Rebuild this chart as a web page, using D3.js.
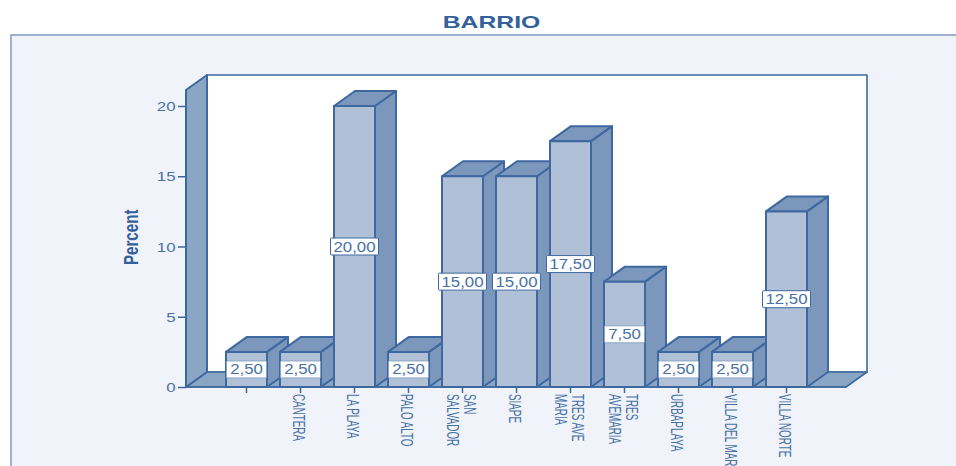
<!DOCTYPE html>
<html><head><meta charset="utf-8">
<script src="https://cdn.jsdelivr.net/npm/d3@7"></script>
<style>html,body{margin:0;padding:0;background:#fff;overflow:hidden}svg{display:block}text{font-family:"Liberation Sans",Arial,sans-serif}</style>
</head><body><svg id="c" width="956" height="466"></svg>
<script>
const categories = [" ","CANTERA","LA PLAYA","PALO ALTO","SAN|SALVADOR","SIAPE","TRES AVE|MARIA","TRES|AVEMARIA","URBAPLAYA","VILLA DEL MAR","VILLA NORTE"];
const percents = [2.5,2.5,20,2.5,15,15,17.5,7.5,2.5,2.5,12.5];
const valueLabels = ["2,50","2,50","20,00","2,50","15,00","15,00","17,50","7,50","2,50","2,50","12,50"];
const yTicks = [0,5,10,15,20];
const titleText = "BARRIO", yTitle = "Percent";

const ink="#3e689f", txt="#4871a6", front="#afc0d7", side="#7b97bb", wall="#8ba6c5";
const dx=21, dy=-15, barW=41;
const svg=d3.select("#c");
const y=d3.scaleLinear().domain([0,20]).range([387,106]);
const x=d3.scaleBand().domain(d3.range(categories.length)).range([219.5,813.5]).padding(0);
const poly=(pts,fill,g=svg,sw=2)=>g.append("polygon").attr("points",pts.map(p=>p.join(",")).join(" ")).attr("fill",fill).attr("stroke",ink).attr("stroke-width",sw).attr("stroke-linejoin","round");

svg.append("rect").attr("x",11).attr("y",35).attr("width",960).attr("height",450).attr("fill","#f0f3f9").attr("stroke","#7d9bc0").attr("stroke-width",1.5);
svg.append("text").attr("transform","translate(491.5,28) scale(1.5,1)").attr("text-anchor","middle").attr("font-size",16.5).attr("font-weight","bold").attr("fill","#33609a").text(titleText);

// walls
const L=186,R=846,B=y(0),topY=90;
poly([[L+dx,topY+dy],[R+dx,topY+dy],[R+dx,B+dy],[L+dx,B+dy]],"#fff",svg,1.6);
poly([[L,B],[L+dx,B+dy],[R+dx,B+dy],[R,B]],wall,svg,1.6);
poly([[L,topY],[L+dx,topY+dy],[L+dx,B+dy],[L,B]],wall);

// bars
const gb=svg.append("g");
percents.forEach((v,i)=>{
  const x0=x(i)+(x.bandwidth()-barW)/2, x1=x0+barW, yt=y(v);
  poly([[x1,yt],[x1+dx,yt+dy],[x1+dx,B+dy],[x1,B]],side,gb);
  poly([[x0,yt],[x0+dx,yt+dy],[x1+dx,yt+dy],[x1,yt]],side,gb);
  poly([[x0,yt],[x1,yt],[x1,B],[x0,B]],front,gb);
});
// value labels
percents.forEach((v,i)=>{
  const cx=x(i)+x.bandwidth()/2, cy=y(v/2);
  const w=valueLabels[i].length>4?48:40;
  const g=svg.append("g").attr("transform",`translate(${cx},${cy})`);
  g.append("rect").attr("x",-w/2).attr("y",-8.5).attr("width",w).attr("height",17).attr("rx",1).attr("fill","#fff").attr("stroke",w>40?ink:"#8ba6c5").attr("stroke-width",1);
  g.append("text").attr("transform","scale(1.2,1)").attr("text-anchor","middle").attr("y",5).attr("font-size",14).attr("fill",txt).text(valueLabels[i]);
});

// axes
const ay=svg.append("g").attr("transform",`translate(${L},0)`).call(d3.axisLeft(y).tickValues(yTicks).tickSize(8).tickPadding(0).tickFormat(d3.format("d")));
ay.select(".domain").remove();
ay.selectAll("line").attr("stroke",ink).attr("stroke-width",1.5);
ay.selectAll("text").attr("fill",txt).attr("font-size",12.5).attr("x",-10.5/1.35).attr("dy","0.36em").attr("transform","scale(1.35,1)");

const ax=svg.append("g").attr("transform",`translate(0,${B})`).call(d3.axisBottom(x).tickSize(6).tickFormat(""));
ax.select(".domain").attr("d",`M${L},0H${R}`).attr("stroke",ink).attr("stroke-width",1.6);
ax.selectAll("line").attr("stroke",ink).attr("stroke-width",1.5);
categories.forEach((c,i)=>{
  const parts=c.split("|"), cx=x(i)+x.bandwidth()/2;
  parts.forEach((p,k)=>{
    const off = parts.length>1 ? (k===0?1.5:-16) : -8;
    svg.append("text").attr("transform",`translate(${cx+off},394) rotate(90) scale(0.58,1)`)
      .attr("font-size",17).attr("fill",txt).text(p);
  });
});
svg.append("text").attr("transform","translate(138,265) rotate(-90) scale(0.72,1)").attr("font-size",21).attr("font-weight","bold").attr("fill","#33609a").text(yTitle);
</script></body></html>
